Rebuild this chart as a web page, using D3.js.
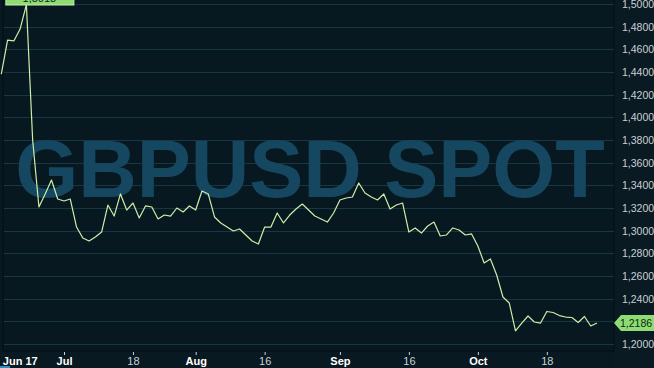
<!DOCTYPE html>
<html>
<head>
<meta charset="UTF-8">
<title>GBPUSD spot</title>
<script src="https://d3js.org/d3.v7.min.js"></script>
<style>
  html, body { margin: 0; padding: 0; background: #081922; }
  svg { display: block; }
</style>
</head>
<body>
<script type="text/javascript">

/* Data: daily closes, Jun 17 to Oct 28 2016 (trading days only) */
var firstDay = '2016-06-17'
var lastDay = '2016-10-28'
var closes = [
  1.4382, 1.4682, 1.4674, 1.4779, 1.4995, 1.3800, 1.3209, 1.3324, 1.3447, 1.3279,
  1.3262, 1.3279, 1.3032, 1.2935, 1.2909, 1.2944, 1.2988, 1.3226, 1.3129, 1.3324,
  1.3182, 1.3244, 1.3112, 1.3218, 1.3209, 1.3103, 1.3138, 1.3129, 1.3200, 1.3165,
  1.3218, 1.3182, 1.3350, 1.3324, 1.3121, 1.3068, 1.3032, 1.2997, 1.3015, 1.2962,
  1.2909, 1.2882, 1.3032, 1.3032, 1.3156, 1.3068, 1.3138, 1.3191, 1.3235, 1.3182,
  1.3129, 1.3103, 1.3076, 1.3156, 1.3271, 1.3288, 1.3297, 1.3421, 1.3332, 1.3297,
  1.3271, 1.3324, 1.3191, 1.3226, 1.3244, 1.2988, 1.3024, 1.2979, 1.3041, 1.3076,
  1.2953, 1.2962, 1.3024, 1.3006, 1.2962, 1.2971, 1.2865, 1.2715, 1.2750, 1.2609,
  1.2415, 1.2362, 1.2115, 1.2185, 1.2247, 1.2194, 1.2185, 1.2287, 1.2278, 1.2251,
  1.2238, 1.2234, 1.2190, 1.2243, 1.2159, 1.2186
]
var peakLabel = '1,5018'
var lastLabel = '1,2186'

/* Axis ticks */
var xTickDates = ['2016-06-17', '2016-07-01', '2016-07-18', '2016-08-01', '2016-08-16',
                  '2016-09-01', '2016-09-16', '2016-10-03', '2016-10-18']
var xTickLabels = ['Jun 17', 'Jul', '18', 'Aug', '16', 'Sep', '16', 'Oct', '18']
var yTicks = [1.20, 1.22, 1.24, 1.26, 1.28, 1.30, 1.32, 1.34, 1.36, 1.38, 1.40,
              1.42, 1.44, 1.46, 1.48, 1.50]
var watermark = 'GBPUSD SPOT'

/* Canvas */
var W = 654, H = 368
var plotLeft = 3, plotRight = 614, plotTop = -1, plotBottom = 351
var bg = '#081922'

var fmtDay = d3.utcFormat('%Y-%m-%d')
var parseDay = d3.utcParse('%Y-%m-%d')
// trading days = weekdays between first and last day
var days = d3.utcDay.range(parseDay(firstDay), d3.utcDay.offset(parseDay(lastDay), 1))
  .filter(function(d) { return d.getUTCDay() != 0 && d.getUTCDay() != 6 })
  .map(fmtDay)

var dat = days.map(function(d, i) { return { day: d, v: closes[i] } })

var x = d3.scalePoint().domain(days).range([1.3, 597]).padding(0)
var y = d3.scaleLinear().domain([1.20, 1.50]).range([344, 4])

var locale = d3.formatLocale({ decimal: ',', thousands: '.', grouping: [3], currency: ['', ''] })
var fmtY = locale.format('.4f')

var last = dat[dat.length - 1]
var ly = y(last.v)

var svg = d3.select('body').append('svg')
  .attr('width', W)
  .attr('height', H)
  .style('font-family', '"Liberation Sans", Arial, sans-serif')

svg.append('rect')
  .attr('width', W).attr('height', H)
  .attr('fill', bg)

/* right hand panel for the value axis */
svg.append('rect')
  .attr('x', plotRight).attr('y', 0)
  .attr('width', W - plotRight).attr('height', H)
  .attr('fill', '#0a1a22')

/* plot area */
svg.append('rect')
  .attr('x', plotLeft).attr('y', plotTop)
  .attr('width', plotRight - plotLeft).attr('height', plotBottom - plotTop)
  .attr('fill', '#071821')
  .attr('stroke', '#03101a')
  .attr('stroke-width', 1.5)

/* horizontal grid */
svg.append('g')
  .selectAll('line')
  .data(yTicks)
  .enter()
  .append('line')
  .attr('x1', plotLeft + 1)
  .attr('x2', plotRight)
  .attr('y1', function(d) { return Math.round(y(d)) + 0.5 })
  .attr('y2', function(d) { return Math.round(y(d)) + 0.5 })
  .attr('stroke', '#173745')
  .attr('stroke-width', 1.2)

/* watermark */
svg.append('text')
  .attr('x', 310)
  .attr('y', 197)
  .attr('text-anchor', 'middle')
  .attr('font-size', 81)
  .attr('font-weight', 'bold')
  .attr('fill', '#164760')
  .text(watermark)

/* price line */
var line = d3.line()
  .x(function(d) { return x(d.day) })
  .y(function(d) { return y(d.v) })

svg.append('path')
  .datum(dat)
  .attr('d', line)
  .attr('fill', 'none')
  .attr('stroke', '#cdeea6')
  .attr('stroke-width', 1.2)
  .attr('stroke-linejoin', 'round')

/* value axis on the right (the label under the last value marker is hidden) */
var yAxis = d3.axisRight(y)
  .tickValues(yTicks.filter(function(d) { return Math.abs(y(d) - ly) > 10 }))
  .tickSize(0)
  .tickPadding(0)
  .tickFormat(fmtY)

var gy = svg.append('g')
  .attr('transform', 'translate(622,0)')
  .call(yAxis)
gy.select('.domain').remove()
gy.selectAll('text')
  .attr('fill', '#c9d1d6')
  .attr('font-size', 10.5)
  .style('font-family', '"Liberation Sans", Arial, sans-serif')

/* time axis */
var xAxis = d3.axisBottom(x)
  .tickValues(xTickDates)
  .tickSize(3)
  .tickPadding(2)
  .tickFormat(function(d, i) { return xTickLabels[i] })

var gx = svg.append('g')
  .attr('transform', 'translate(0,' + (plotBottom + 1) + ')')
  .call(xAxis)
gx.select('.domain').remove()
gx.selectAll('.tick line').attr('stroke', '#c9d1d6')
gx.selectAll('text')
  .attr('fill', function(d, i) { return isNaN(+xTickLabels[i]) ? '#ffffff' : '#c9d1d6' })
  .attr('font-size', 11)
  .attr('font-weight', function(d, i) { return isNaN(+xTickLabels[i]) ? 'bold' : 'normal' })
  .style('font-family', '"Liberation Sans", Arial, sans-serif')
// first label sits at the left edge, without a tick
gx.selectAll('.tick').filter(function(d, i) { return i == 0 })
  .each(function() {
    d3.select(this).select('line').remove()
    d3.select(this).select('text').attr('text-anchor', 'start').attr('x', 1)
  })

svg.append('rect')
  .attr('x', 0).attr('y', H - 2)
  .attr('width', 10).attr('height', 2)
  .attr('fill', '#2b8fc4')

/* peak label (mostly cut off at top) */
var peak = dat[d3.maxIndex(dat, function(d) { return d.v })]
svg.append('rect')
  .attr('x', x(peak.day) - 20.5).attr('y', -11)
  .attr('width', 68).attr('height', 16)
  .attr('fill', '#8fdc74')
  .attr('stroke', '#c5f2b0')
svg.append('text')
  .attr('x', x(peak.day) + 13).attr('y', 2)
  .attr('text-anchor', 'middle')
  .attr('font-size', 11)
  .attr('fill', '#0b2a10')
  .text(peakLabel)

/* last value marker */
svg.append('path')
  .attr('d', 'M' + plotRight + ',' + ly + 'L' + (plotRight + 7) + ',' + (ly - 8) +
             'L' + W + ',' + (ly - 8) + 'L' + W + ',' + (ly + 8) +
             'L' + (plotRight + 7) + ',' + (ly + 8) + 'Z')
  .attr('fill', '#8fdc74')
svg.append('text')
  .attr('x', 620).attr('y', ly + 4)
  .attr('font-size', 10.5)
  .attr('fill', '#0b2a10')
  .text(lastLabel)

</script>
</body>
</html>
